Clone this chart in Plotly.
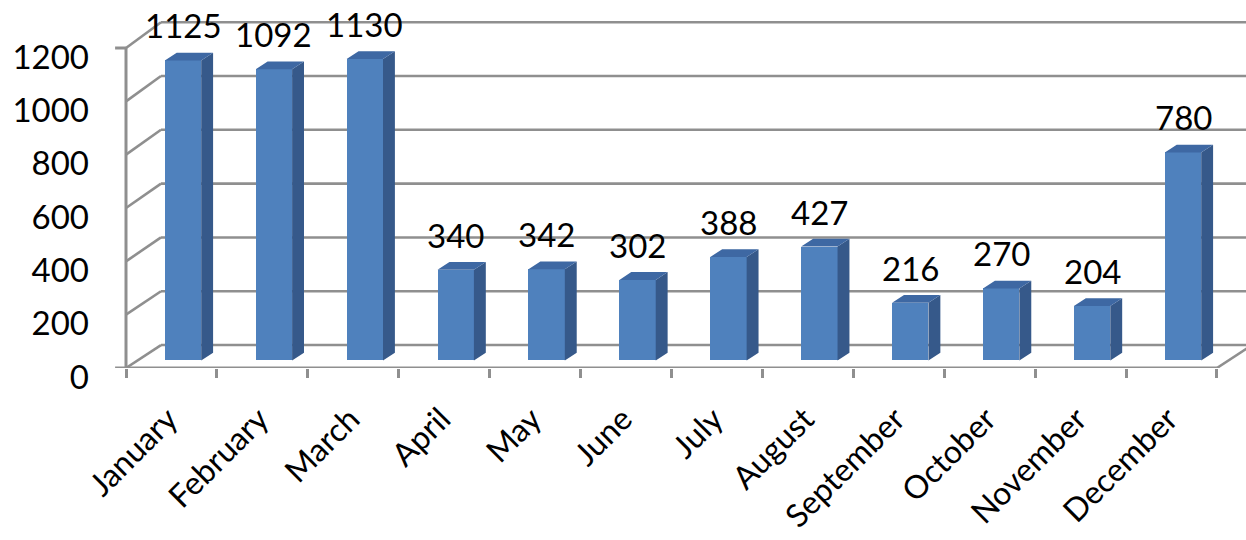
import plotly.graph_objects as go

# Monthly totals
months = ["January", "February", "March", "April", "May", "June",
          "July", "August", "September", "October", "November", "December"]
values = [1125, 1092, 1130, 340, 342, 302, 388, 427, 216, 270, 204, 780]
gridvals = [0, 200, 400, 600, 800, 1000, 1200]

# pseudo-3D geometry (x in category units, y in value units)
DEPTH_X = 0.385      # horizontal shift from front plane to back wall
DEPTH_Y = 86         # vertical shift from front plane to back wall
BACK_SCALE = 1.009   # slight perspective on the back wall
F0, F1 = 0.33, 0.67  # bar depth, as fraction of the floor depth
BAR_W = 0.40

FRONT = "#4f81bd"
SIDE = "#36598a"
TOP = "#3e68a3"
GRID = "#8f8f8f"
FONT = "Lato"

n = len(months)
fig = go.Figure()


def seg(x0, y0, x1, y1, width=2.6):
    fig.add_shape(type="line", xref="x", yref="y", x0=x0, y0=y0, x1=x1, y1=y1,
                  layer="below", line=dict(color=GRID, width=width))


# back wall gridlines and side-wall diagonals
for v in gridvals:
    vb = DEPTH_Y + v * BACK_SCALE
    seg(DEPTH_X, vb, n + DEPTH_X + 0.5, vb)
    seg(0, v, DEPTH_X, vb)

# floor: front edge, right diagonal, front vertical axis with end ticks
seg(-0.12, 0, n, 0, 3)
seg(n, 0, n + DEPTH_X, DEPTH_Y, 2.6)
seg(0, 0, 0, gridvals[-1], 3)
seg(-0.12, gridvals[-1], 0, gridvals[-1], 3)

# bars: front faces
base = F0 * DEPTH_Y
shift_x = F0 * DEPTH_X
centers = [i + 0.5 + shift_x for i in range(n)]
fig.add_trace(go.Bar(x=centers, y=values, base=[base] * n, width=BAR_W,
                     marker=dict(color=FRONT, line=dict(width=0)),
                     hoverinfo="skip", showlegend=False))

# side and top faces
ddx = (F1 - F0) * DEPTH_X
ddy = (F1 - F0) * DEPTH_Y
sx, sy, tx, ty = [], [], [], []
for c, v in zip(centers, values):
    xl, xr = c - BAR_W / 2, c + BAR_W / 2
    top = base + v
    sx += [xr, xr, xr + ddx, xr + ddx, xr, None]
    sy += [base, top, top + ddy, base + ddy, base, None]
    tx += [xl, xr, xr + ddx, xl + ddx, xl, None]
    ty += [top, top, top + ddy, top + ddy, top, None]
fig.add_trace(go.Scatter(x=sx, y=sy, mode="lines", fill="toself", fillcolor=SIDE,
                         line=dict(width=0, color=SIDE), hoverinfo="skip", showlegend=False))
fig.add_trace(go.Scatter(x=tx, y=ty, mode="lines", fill="toself", fillcolor=TOP,
                         line=dict(width=0, color=TOP), hoverinfo="skip", showlegend=False))

# value labels
for c, v in zip(centers, values):
    fig.add_annotation(x=c, y=base + v, text=str(v), showarrow=False,
                       yanchor="middle", yshift=35,
                       font=dict(family=FONT, size=33, color="black"))

fig.update_layout(
    width=1246, height=540,
    margin=dict(l=112, r=0, t=0, b=172, autoexpand=False),
    paper_bgcolor="white", plot_bgcolor="white",
    bargap=0,
    xaxis=dict(
        range=[-0.154, 12.32], showgrid=False, zeroline=False, showline=False,
        automargin=False,
        tickmode="array", tickvals=[i + 0.5 for i in range(n)], ticktext=months,
        ticks="", tickangle=-45, ticklabelstandoff=25, ticklabelshift=-3,
        tickfont=dict(family=FONT, size=32, color="black"),
        minor=dict(tickmode="array", tickvals=list(range(n + 1)), ticks="outside",
                   ticklen=9, tickwidth=3, tickcolor=GRID),
    ),
    yaxis=dict(
        range=[0, 1380], showgrid=False, zeroline=False, showline=False,
        automargin=False,
        tickmode="array", tickvals=gridvals, ticks="",
        ticklabelstandoff=22, ticklabelshift=9,
        tickfont=dict(family=FONT, size=33, color="black"),
    ),
)

fig.write_html("out.html")
